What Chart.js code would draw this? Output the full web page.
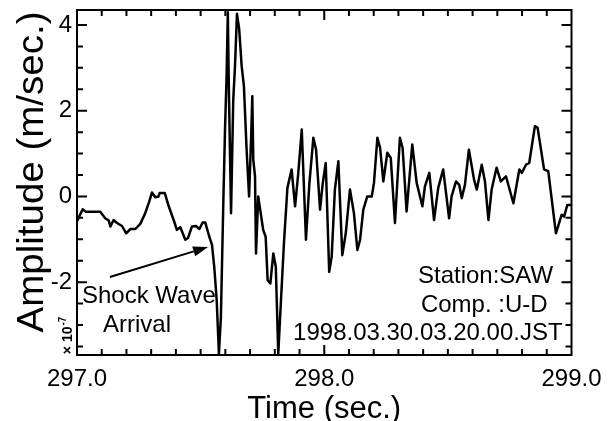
<!DOCTYPE html>
<html>
<head>
<meta charset="utf-8">
<script src="https://cdn.jsdelivr.net/npm/chart.js@4.4.0/dist/chart.umd.min.js"></script>
<style>
  body { margin: 0; background: #fff; }
</style>
</head>
<body>
<canvas id="seismo" width="612" height="421"></canvas>
<script>
// trace (time in sec, amplitude in 1e-7 m/sec)
const times = [
  297.000, 297.023, 297.036, 297.094, 297.114, 297.128, 297.135, 297.148, 297.162, 297.182,
  297.199, 297.216, 297.236, 297.256, 297.276, 297.292, 297.303, 297.317, 297.330, 297.334,
  297.355, 297.371, 297.391, 297.404, 297.418, 297.438, 297.449, 297.465, 297.481, 297.495,
  297.508, 297.519, 297.533, 297.546, 297.555, 297.565, 297.574, 297.582, 297.592, 297.599,
  297.605, 297.610, 297.614, 297.623, 297.632, 297.639, 297.647, 297.656, 297.666, 297.675,
  297.686, 297.696, 297.704, 297.709, 297.713, 297.720, 297.724, 297.733, 297.743, 297.753,
  297.763, 297.771, 297.782, 297.794, 297.804, 297.814, 297.825, 297.837, 297.851, 297.868,
  297.882, 297.895, 297.909, 297.926, 297.940, 297.956, 297.967, 297.983, 297.994, 298.006,
  298.020, 298.030, 298.043, 298.057, 298.073, 298.087, 298.104, 298.120, 298.134, 298.145,
  298.158, 298.174, 298.192, 298.201, 298.215, 298.226, 298.239, 298.255, 298.269, 298.286,
  298.306, 298.317, 298.333, 298.356, 298.374, 298.397, 298.407, 298.425, 298.444, 298.461,
  298.481, 298.505, 298.515, 298.533, 298.546, 298.556, 298.569, 298.585, 298.606, 298.617,
  298.637, 298.650, 298.664, 298.677, 298.697, 298.714, 298.735, 298.765, 298.789, 298.799,
  298.816, 298.829, 298.852, 298.863, 298.889, 298.906, 298.937, 298.960, 298.970, 298.983,
  299.000
];
const amplitude = [
  -0.58, -0.30, -0.36, -0.36, -0.51, -0.56, -0.70, -0.55, -0.62, -0.69,
  -0.86, -0.76, -0.76, -0.64, -0.39, -0.12, 0.09, -0.02, 0.00, 0.08,
  0.08, -0.23, -0.55, -0.78, -0.72, -1.01, -0.97, -0.70, -0.69, -0.76,
  -0.61, -0.61, -0.90, -1.13, -1.64, -2.42, -3.67, -2.81, -0.08, 1.64,
  2.81, 4.30, 2.58, -0.39, 2.26, 3.04, 4.26, 3.90, 3.04, 2.58,
  1.09, 0.00, 1.33, 2.34, 0.86, 0.47, -1.33, 0.00, -0.39, -0.78,
  -0.94, -1.95, -2.03, -1.33, -1.64, -3.67, -2.42, -1.09, 0.20, 0.63,
  -0.23, 0.55, 1.56, -1.01, 0.31, 1.37, 1.09, -0.31, 0.31, 0.78,
  -1.76, -1.41, 0.16, 0.82, -1.37, -0.86, 0.16, -0.39, -1.25, -1.01,
  -0.31, 0.00, 0.00, 0.31, 1.37, 1.13, 0.35, 1.02, 0.90, -0.62,
  1.37, 1.13, -0.35, 1.21, 0.31, -0.23, 0.23, 0.55, -0.55, 0.20,
  0.63, -0.51, 0.00, 0.35, 0.27, -0.04, 0.27, 1.09, 0.39, 0.16,
  0.74, 0.35, -0.55, 0.16, 0.67, 0.35, 0.47, -0.16, 0.63, 0.55,
  0.74, 0.78, 1.64, 1.60, 0.63, 0.59, -0.86, -0.43, -0.47, -0.20,
  -0.20
];
const xTicks = [297.0, 298.0, 299.0];
const yTicks = [-2, 0, 2, 4];
const yTitle = 'Amplitude (m/sec.)';
const stationLines = ['Station:SAW', 'Comp. :U-D', '1998.03.30.03.20.00.JST'];
const arrowLabel = ['Shock Wave', 'Arrival'];

const FONT = "'Liberation Sans', Arial, Helvetica, sans-serif";
Chart.defaults.font.family = FONT;
Chart.defaults.color = '#000';

// frame + inward ticks on all four sides
const frameTicks = {
  id: 'frameTicks',
  afterDatasetsDraw(chart) {
    const { ctx, chartArea: a, scales: { x, y } } = chart;
    ctx.save();
    ctx.strokeStyle = '#000';
    ctx.lineWidth = 2;
    ctx.beginPath();
    for (let i = 1; i < 20; i++) {
      const px = x.getPixelForValue(297 + i / 10);
      const len = i % 10 === 0 ? 10 : 6;
      ctx.moveTo(px, a.bottom); ctx.lineTo(px, a.bottom - len);
      ctx.moveTo(px, a.top); ctx.lineTo(px, a.top + len);
    }
    for (let k = -7; k <= 8; k++) {
      const v = k / 2;
      const py = y.getPixelForValue(v);
      const len = v % 2 === 0 ? 10 : 6;
      ctx.moveTo(a.left, py); ctx.lineTo(a.left + len, py);
      ctx.moveTo(a.right, py); ctx.lineTo(a.right - len, py);
    }
    ctx.stroke();
    ctx.lineWidth = 2;
    ctx.strokeRect(a.left, a.top, a.width, a.height);
    ctx.restore();
  }
};

// y title, station text, arrow and its label, plus the x10^-7 unit
const notes = {
  id: 'notes',
  afterDraw(chart) {
    const { ctx, scales: { x, y } } = chart;
    ctx.save();
    ctx.fillStyle = '#000';
    ctx.font = '24px ' + FONT;
    ctx.textBaseline = 'alphabetic';
    ctx.textAlign = 'left';
    ctx.fillText(stationLines[0], x.getPixelForValue(298.379), y.getPixelForValue(-2.02));
    ctx.fillText(stationLines[1], x.getPixelForValue(298.391), y.getPixelForValue(-2.70));
    ctx.fillText(stationLines[2], x.getPixelForValue(297.874), y.getPixelForValue(-3.35));
    ctx.fillText(arrowLabel[0], x.getPixelForValue(297.020), y.getPixelForValue(-2.49));
    ctx.fillText(arrowLabel[1], x.getPixelForValue(297.105), y.getPixelForValue(-3.16));

    // arrow pointing at the shock wave onset
    const x0 = x.getPixelForValue(297.133), y0 = y.getPixelForValue(-1.88);
    const x1 = x.getPixelForValue(297.530), y1 = y.getPixelForValue(-1.18);
    const ang = Math.atan2(y1 - y0, x1 - x0);
    const head = 15, half = 5;
    ctx.strokeStyle = '#000';
    ctx.lineWidth = 2;
    ctx.beginPath();
    ctx.moveTo(x0, y0);
    ctx.lineTo(x1 - head * Math.cos(ang), y1 - head * Math.sin(ang));
    ctx.stroke();
    ctx.beginPath();
    ctx.moveTo(x1, y1);
    ctx.lineTo(x1 - head * Math.cos(ang) + half * Math.sin(ang), y1 - head * Math.sin(ang) - half * Math.cos(ang));
    ctx.lineTo(x1 - head * Math.cos(ang) - half * Math.sin(ang), y1 - head * Math.sin(ang) + half * Math.cos(ang));
    ctx.closePath();
    ctx.fill();

    // rotated y-axis title
    ctx.save();
    ctx.translate(43, y.getPixelForValue(0.57));
    ctx.rotate(-Math.PI / 2);
    ctx.scale(1.07, 1);
    ctx.textAlign = 'center';
    ctx.font = '36px ' + FONT;
    ctx.fillText(yTitle, 0, 0);
    ctx.restore();

    // x 10^-7 scale factor, rotated
    ctx.translate(x.left - 5, y.getPixelForValue(-3.68));
    ctx.rotate(-Math.PI / 2);
    ctx.font = 'bold 14px ' + FONT;
    ctx.fillText('\u00d7 10', 0, 0);
    const w = ctx.measureText('\u00d7 10').width;
    ctx.font = 'bold 10px ' + FONT;
    ctx.fillText('-7', w + 1, -6);
    ctx.restore();
  }
};

const ctx = document.getElementById('seismo').getContext('2d');
new Chart(ctx, {
  type: 'line',
  data: {
    datasets: [{
      data: times.map((t, i) => ({ x: t, y: amplitude[i] })),
      borderColor: '#000',
      borderWidth: 2.5,
      borderJoinStyle: 'round',
      pointRadius: 0,
      tension: 0,
      fill: false
    }]
  },
  options: {
    responsive: false,
    animation: false,
    devicePixelRatio: 1,
    layout: { padding: { top: 10, right: 40.5, bottom: 0, left: 0 } },
    plugins: { legend: { display: false }, tooltip: { enabled: false } },
    scales: {
      x: {
        type: 'linear',
        min: 297,
        max: 299,
        afterBuildTicks: s => { s.ticks = xTicks.map(v => ({ value: v })); },
        afterFit: s => { s.height = 66; s.paddingLeft = 0; s.paddingRight = 0; },
        grid: { display: false, drawTicks: false },
        border: { display: false },
        ticks: {
          padding: 10,
          maxRotation: 0,
          font: { size: 24 },
          callback: v => v.toFixed(1)
        },
        title: {
          display: true,
          text: 'Time (sec.)',
          font: { size: 31, lineHeight: 0.75 },
          padding: 0
        }
      },
      y: {
        min: -3.7,
        max: 4.35,
        afterBuildTicks: s => { s.ticks = yTicks.map(v => ({ value: v })); },
        afterFit: s => { s.width = 77; s.paddingTop = 0; s.paddingBottom = 0; },
        grid: { display: false, drawTicks: false },
        border: { display: false },
        ticks: {
          padding: 5,
          font: { size: 24 },
          callback: v => String(v)
        }
      }
    }
  },
  plugins: [frameTicks, notes]
});
</script>
</body>
</html>
